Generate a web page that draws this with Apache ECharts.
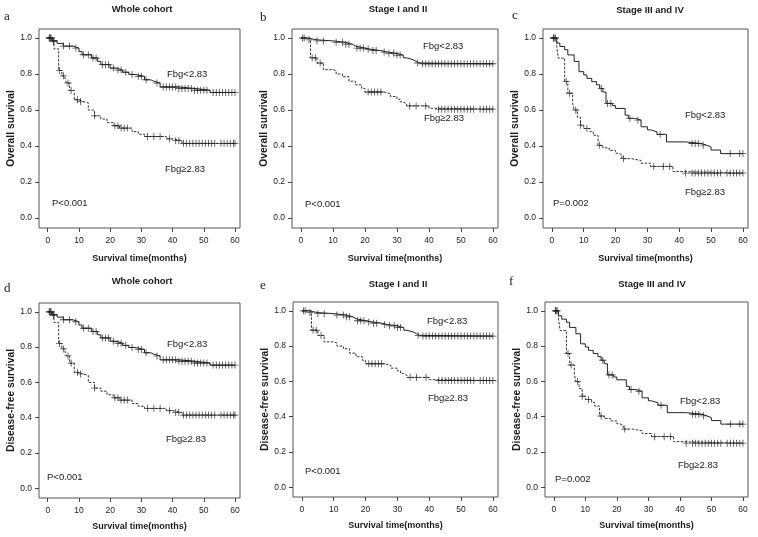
<!DOCTYPE html>
<html>
<head>
<meta charset="utf-8">
<script src="https://cdn.jsdelivr.net/npm/echarts@6/dist/echarts.min.js"></script>
<style>html,body{margin:0;padding:0;background:#fff}#c{width:758px;height:537px}</style>
</head>
<body>
<div id="c"></div>
<script>
// ---------- DATA ----------
const xTicks = [0, 10, 20, 30, 40, 50, 60];
const yTicks = [0, 0.2, 0.4, 0.6, 0.8, 1.0];
const groupLow = 'Fbg<2.83';
const groupHigh = 'Fbg\u22652.83';

// Kaplan-Meier steps [month, survival] and censoring times (months)
// Whole cohort, overall survival
const osWholeLow = [[0,1.0],[1.5,0.985],[3,0.97],[5,0.955],[8,0.944],[10,0.925],[11,0.907],[14,0.889],[16,0.87],[17,0.852],[20,0.833],[22,0.822],[24,0.81],[26,0.798],[28,0.787],[31,0.768],[33,0.76],[34,0.75],[36,0.728],[42,0.72],[47,0.71],[52,0.698]];
const osWholeLowCens = [0.5,1,2,5,7,9,11.5,13,14.5,15.5,17.5,18.5,19.5,21,22.5,23.5,25,27,29,30,31.5,35,37,38,39,40,41,42,43,44,45,46,47,48,49,50,51,53,54,55,56,57,58,59,60];
const osWholeHigh = [[0,1.0],[1.3,0.98],[2,0.94],[3.5,0.82],[4.5,0.79],[5.5,0.778],[6,0.75],[7,0.709],[8.5,0.657],[10,0.648],[11,0.64],[13,0.6],[15,0.568],[17,0.55],[19,0.53],[21,0.513],[23,0.5],[27,0.48],[29,0.465],[31,0.453],[38,0.44],[40,0.43],[43,0.415]];
const osWholeHighCens = [0.5,1,1.8,3.8,5,6.5,7.5,9.5,10.5,15,21.5,22.5,23.5,24.5,25.5,32,34,36,39,41,42,43.5,44.5,45.5,46.5,47.5,48.5,49.5,50.5,51.5,52.5,53.5,55.5,56.5,57.5,58.5,59.5,60];

// Stage I and II, overall survival
const osEarlyLow = [[0,1.0],[2,0.99],[5,0.984],[10,0.976],[14,0.966],[16,0.955],[17,0.944],[20,0.937],[22,0.93],[25,0.922],[27,0.915],[30,0.905],[32,0.89],[33,0.88],[35,0.87],[36,0.861],[37,0.857]];
const osEarlyLowCens = [0.5,1,2.5,5,7,11,13,14,15,17.5,18.5,19.5,21,22.5,23.5,26,27.5,29,30,31,36.5,38,39,40,41,42,43,44,45,46,47,48,49,50,51,52,53,54,55,56,57,58,59,60];
const osEarlyHigh = [[0,1.0],[3,0.89],[5,0.861],[7,0.824],[10,0.818],[11,0.8],[13,0.785],[15,0.76],[17,0.74],[19,0.72],[20,0.7],[26,0.69],[28,0.675],[30,0.66],[31,0.645],[32,0.635],[33,0.623],[40,0.61],[42,0.605]];
const osEarlyHighCens = [3.5,4.5,6,21,22,23,24,25,34,36,39,43,44,45,46,47,48,49,50,51,52,53,54,56,57,58,59,60];

// Stage III and IV, overall survival
const osLateLow = [[0,1.0],[1.5,0.972],[2.5,0.953],[4,0.935],[5,0.906],[7,0.87],[8.5,0.813],[10,0.795],[11,0.776],[12.5,0.758],[14,0.74],[15,0.72],[16,0.7],[17,0.637],[19,0.625],[20,0.609],[23,0.572],[24,0.554],[26,0.544],[28,0.507],[30,0.49],[31,0.479],[33,0.465],[36,0.423],[42,0.414],[47,0.405],[48.5,0.395],[50,0.378],[53,0.358]];
const osLateLowCens = [0.5,1,15.5,17.5,18.5,24.5,27,34,44,45,46,47.5,56,59,60];
const osLateHigh = [[0,1.0],[1.5,0.953],[2,0.888],[4,0.758],[5,0.693],[6.5,0.64],[7,0.6],[8,0.56],[9,0.516],[10,0.497],[12,0.48],[13,0.46],[14.5,0.404],[16,0.39],[18,0.376],[20,0.36],[21,0.35],[22,0.33],[25,0.32],[28,0.305],[31,0.287],[38,0.259],[40,0.25]];
const osLateHighCens = [0.5,1,4.5,5.5,7.5,9,11,15,22.5,32,35,37,42,44,45,46,47,48,49,50,51,52,53,55,56,57,58,59,60];

// Disease-free survival (curves read as identical to overall survival in the figure)
const dfsWholeLow = osWholeLow, dfsWholeLowCens = osWholeLowCens;
const dfsWholeHigh = osWholeHigh, dfsWholeHighCens = osWholeHighCens;
const dfsEarlyLow = osEarlyLow, dfsEarlyLowCens = osEarlyLowCens;
const dfsEarlyHigh = osEarlyHigh, dfsEarlyHighCens = osEarlyHighCens;
const dfsLateLow = osLateLow, dfsLateLowCens = osLateLowCens;
const dfsLateHigh = osLateHigh, dfsLateHighCens = osLateHighCens;

const titles = ['Whole cohort', 'Stage I and II', 'Stage III and IV', 'Whole cohort', 'Stage I and II', 'Stage III and IV'];
const letters = ['a', 'b', 'c', 'd', 'e', 'f'];
const yNames = ['Overall survival', 'Overall survival', 'Overall survival', 'Disease-free survival', 'Disease-free survival', 'Disease-free survival'];
const pTexts = ['P<0.001', 'P<0.001', 'P=0.002', 'P<0.001', 'P<0.001', 'P=0.002'];
const xName = 'Survival time(months)';

// ---------- LAYOUT ----------
const panels = [
  {grid:{left:39,top:29,width:201,height:199}, xGap:26, low:osWholeLow, lowC:osWholeLowCens, high:osWholeHigh, highC:osWholeHighCens,
   title:[142,9], letter:[4,17], lowT:[167,74], highT:[165,169], pT:[52,203]},
  {grid:{left:292,top:29,width:206,height:199}, xGap:26, low:osEarlyLow, lowC:osEarlyLowCens, high:osEarlyHigh, highC:osEarlyHighCens,
   title:[398,9], letter:[260,18], lowT:[423,46], highT:[424,118], pT:[305,204]},
  {grid:{left:543,top:29,width:205,height:199}, xGap:26, low:osLateLow, lowC:osLateLowCens, high:osLateHigh, highC:osLateHighCens,
   title:[650,10], letter:[512,16], lowT:[685,115], highT:[685,192], pT:[553,203]},
  {grid:{left:39,top:303,width:201,height:195}, xGap:24, low:dfsWholeLow, lowC:dfsWholeLowCens, high:dfsWholeHigh, highC:dfsWholeHighCens,
   title:[142,281], letter:[4,289], lowT:[167,344], highT:[166,439], pT:[47,477]},
  {grid:{left:293,top:302,width:205,height:195}, xGap:24, low:dfsEarlyLow, lowC:dfsEarlyLowCens, high:dfsEarlyHigh, highC:dfsEarlyHighCens,
   title:[398,284], letter:[260,286], lowT:[427,321], highT:[428,398], pT:[305,471]},
  {grid:{left:545,top:302,width:203,height:195}, xGap:24, low:dfsLateLow, lowC:dfsLateLowCens, high:dfsLateHigh, highC:dfsLateHighCens,
   title:[652,284], letter:[509,282], lowT:[680,401], highT:[678,465], pT:[555,479]}
];

const SANS = '"Liberation Sans", Arial, sans-serif';
const SERIF = '"Liberation Serif", "Times New Roman", serif';
const INK = '#1a1a1a';
const PLUS = 'path://M4.4,0H5.6V4.4H10V5.6H5.6V10H4.4V5.6H0V4.4H4.4Z';

function stepValue(steps, t) {
  let v = steps[0][1];
  for (const s of steps) { if (s[0] <= t) v = s[1]; else break; }
  return v;
}
function lineData(steps, cens) {
  const end = Math.max(...cens);
  const d = steps.map(s => [s[0], s[1]]);
  d.push([end, steps[steps.length - 1][1]]);
  return d;
}
function censData(steps, cens) { return cens.map(t => [t, stepValue(steps, t)]); }

const grids = [], xAxes = [], yAxes = [], series = [], graphics = [];
panels.forEach((p, i) => {
  grids.push(Object.assign({show:true, borderColor:'#555', borderWidth:1, containLabel:false}, p.grid));
  xAxes.push({
    gridIndex:i, type:'value', min:-2.8, max:61.6,
    axisLine:{show:false, onZero:false}, splitLine:{show:false},
    axisTick:{show:true, length:4, customValues:xTicks, lineStyle:{color:'#444'}},
    axisLabel:{customValues:xTicks, fontSize:8.5, color:INK, margin:8, fontFamily:SANS},
    name:xName, nameLocation:'middle', nameGap:p.xGap,
    nameTextStyle:{fontWeight:'bold', fontSize:9, color:INK, fontFamily:SANS}
  });
  yAxes.push({
    gridIndex:i, type:'value', min:-0.055, max:1.05,
    axisLine:{show:false, onZero:false}, splitLine:{show:false},
    axisTick:{show:true, length:4, customValues:yTicks, lineStyle:{color:'#444'}},
    axisLabel:{customValues:yTicks, fontSize:8.5, color:INK, margin:7, fontFamily:SANS, formatter:v => v.toFixed(1)},
    name:yNames[i], nameLocation:'middle', nameGap:22,
    nameTextStyle:{fontWeight:'bold', fontSize:10.3, color:INK, fontFamily:SANS}
  });
  series.push({type:'line', name:groupLow, xAxisIndex:i, yAxisIndex:i, step:'end', showSymbol:false,
    data:lineData(p.low, p.lowC), lineStyle:{width:1, color:'#222'}, silent:true, z:2});
  series.push({type:'line', name:groupHigh, xAxisIndex:i, yAxisIndex:i, step:'end', showSymbol:false,
    data:lineData(p.high, p.highC), lineStyle:{width:1, color:'#333', type:[2.5,1.5]}, silent:true, z:2});
  series.push({type:'scatter', name:groupLow + ' censored', xAxisIndex:i, yAxisIndex:i, symbol:PLUS, symbolSize:7,
    data:censData(p.low, p.lowC), itemStyle:{color:'#222'}, silent:true, z:3});
  series.push({type:'scatter', name:groupHigh + ' censored', xAxisIndex:i, yAxisIndex:i, symbol:PLUS, symbolSize:7,
    data:censData(p.high, p.highC), itemStyle:{color:'#222'}, silent:true, z:3});

  const txt = (s, pos, font, align, va) => graphics.push({type:'text', x:pos[0], y:pos[1], silent:true,
    style:{text:s, font:font, fill:INK, align:align || 'left', verticalAlign:va || 'middle'}});
  txt(titles[i], p.title, 'bold 9.5px ' + SANS, 'center');
  txt(letters[i], p.letter, '13px ' + SERIF, 'left');
  txt(groupLow, p.lowT, '9.5px ' + SANS);
  txt(groupHigh, p.highT, '9.5px ' + SANS);
  txt(pTexts[i], p.pT, '9.5px ' + SANS);
});

const chart = echarts.init(document.getElementById('c'), null, {renderer:'canvas'});
chart.setOption({
  backgroundColor:'#fff', animation:false,
  grid:grids, xAxis:xAxes, yAxis:yAxes, series:series, graphic:graphics
});
</script>
</body>
</html>
